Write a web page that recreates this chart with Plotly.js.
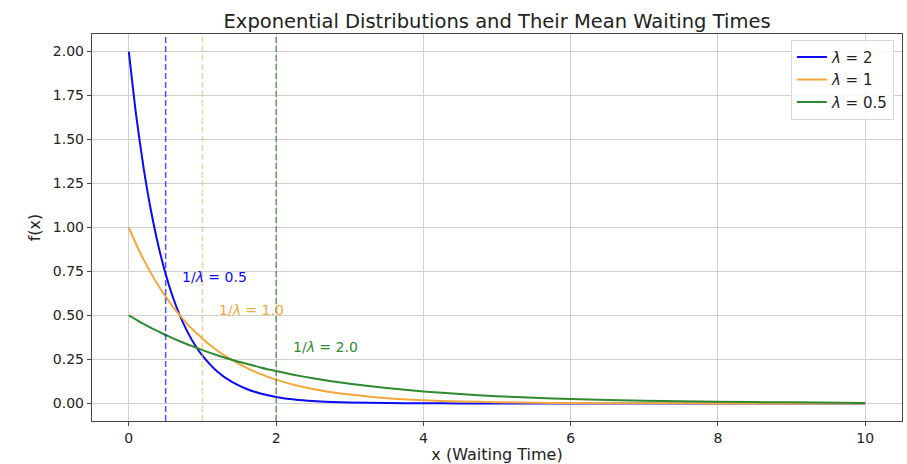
<!DOCTYPE html>
<html>
<head>
<meta charset="utf-8">
<script src="https://cdn.plot.ly/plotly-3.0.1.min.js"></script>
<style>html,body{margin:0;padding:0;background:#fff;}#chart{width:907px;height:464px;}</style>
</head>
<body>
<div id="chart"></div>
<script>
const lambdas = [2, 1, 0.5];
const seriesNames = ["<i>λ</i> = 2", "<i>λ</i> = 1", "<i>λ</i> = 0.5"];
const xValues = [0,0.1,0.2,0.3,0.4,0.5,0.6,0.7,0.8,0.9,1.0,1.2,1.4,1.6,1.8,2.0,2.25,2.5,2.75,3,3.5,4,4.5,5,5.5,6,7,8,9,10];
const yLam2 = [2.000,1.637,1.341,1.098,0.899,0.736,0.602,0.493,0.404,0.331,0.271,0.181,0.122,0.082,0.055,0.037,0.022,0.013,0.008,0.005,0.002,0.001,0.000,0.000,0.000,0.000,0.000,0.000,0.000,0.000];
const yLam1 = [1.000,0.905,0.819,0.741,0.670,0.607,0.549,0.497,0.449,0.407,0.368,0.301,0.247,0.202,0.165,0.135,0.105,0.082,0.064,0.050,0.030,0.018,0.011,0.007,0.004,0.002,0.001,0.000,0.000,0.000];
const yLam05 = [0.500,0.476,0.452,0.430,0.409,0.389,0.370,0.352,0.335,0.319,0.303,0.274,0.248,0.225,0.203,0.184,0.162,0.143,0.126,0.112,0.087,0.068,0.053,0.041,0.032,0.025,0.015,0.009,0.006,0.003];
const meanLabels = ["1/<i>λ</i> = 0.5", "1/<i>λ</i> = 1.0", "1/<i>λ</i> = 2.0"];
const labelY = [0.72, 0.53, 0.32];
const xTicks = [0, 2, 4, 6, 8, 10];
const yTicks = [0, 0.25, 0.5, 0.75, 1.0, 1.25, 1.5, 1.75, 2.0];
const yTickText = ["0.00","0.25","0.50","0.75","1.00","1.25","1.50","1.75","2.00"];

const colors = ["#0a0af5", "#f5a83a", "#2e8a2e"];
const dashAlpha = [0.7, 0.55, 0.75];
const ySeries = [yLam2, yLam1, yLam05];
const FONT = "DejaVu Sans, sans-serif";

const traces = ySeries.map((ys, i) => ({
  x: xValues, y: ys, type: "scatter", mode: "lines",
  name: seriesNames[i],
  line: {color: colors[i], width: 2, shape: "spline", smoothing: 0.6}
}));

function rgba(hex, a) {
  const r = parseInt(hex.slice(1,3),16), g = parseInt(hex.slice(3,5),16), b = parseInt(hex.slice(5,7),16);
  return `rgba(${r},${g},${b},${a})`;
}

const shapes = lambdas.map((l, i) => ({
  type: "line", xref: "x", yref: "paper", x0: 1 / l, x1: 1 / l, y0: 0, y1: 1,
  line: {color: rgba(colors[i], dashAlpha[i]), width: 1.5, dash: "6px,3px"}, layer: "above"
}));

const annotations = lambdas.map((l, i) => ({
  x: 1 / l + 0.2, y: labelY[i], xref: "x", yref: "y",
  text: meanLabels[i], showarrow: false, xanchor: "left", yanchor: "middle",
  font: {family: FONT, size: 14, color: colors[i]}
}));

const layout = {
  width: 907, height: 464,
  margin: {l: 92, r: 5, t: 34, b: 43},
  paper_bgcolor: "#ffffff", plot_bgcolor: "#ffffff",
  title: {text: "Exponential Distributions and Their Mean Waiting Times",
          font: {family: FONT, size: 19.5, color: "#222"}, x: 0.548, xanchor: "center", y: 0.955, yanchor: "middle"},
  xaxis: {
    range: [-0.5, 10.5], tickvals: xTicks, ticktext: xTicks.map(String),
    showgrid: true, gridcolor: "#d0d0d0", gridwidth: 1, zeroline: false,
    showline: true, mirror: true, linecolor: "#444", linewidth: 1.2,
    ticks: "outside", ticklen: 4, tickcolor: "#444",
    tickfont: {family: FONT, size: 14, color: "#222"},
    title: {text: "x (Waiting Time)", font: {family: FONT, size: 16, color: "#222"}, standoff: 4}
  },
  yaxis: {
    range: [-0.1, 2.1], tickvals: yTicks, ticktext: yTickText,
    showgrid: true, gridcolor: "#d0d0d0", gridwidth: 1, zeroline: false,
    showline: true, mirror: true, linecolor: "#444", linewidth: 1.2,
    ticks: "outside", ticklen: 4, tickcolor: "#444",
    tickfont: {family: FONT, size: 14, color: "#222"},
    title: {text: "f(x)", font: {family: FONT, size: 16, color: "#222"}, standoff: 8}
  },
  legend: {
    x: 0.99, y: 0.985, xanchor: "right", yanchor: "top",
    bgcolor: "rgba(255,255,255,0.85)", bordercolor: "#d8d8d8", borderwidth: 1,
    font: {family: FONT, size: 15, color: "#222"}, tracegroupgap: 0
  },
  shapes: shapes,
  annotations: annotations,
  showlegend: true
};

Plotly.newPlot("chart", traces, layout, {displayModeBar: false, staticPlot: true});
</script>
</body>
</html>
